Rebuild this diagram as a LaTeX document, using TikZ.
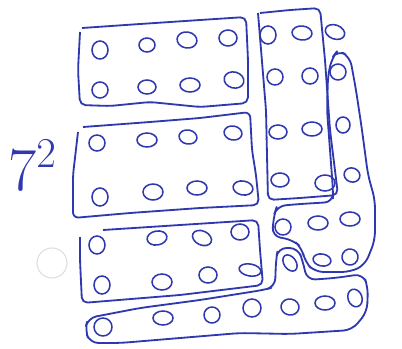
\documentclass[tikz,border=0pt]{standalone}
\usepackage{xcolor}
\usepackage{tikz}
\usetikzlibrary{positioning}
\definecolor{ink}{RGB}{48,56,176}
\colorlet{holemark}{gray!25}

\begin{document}
\begin{tikzpicture}[x=0.025cm, y=-0.025cm,
    outline/.style={draw=ink, line width=1.3pt, rounded corners=4pt, line join=round},
    bead/.style={draw=ink, line width=1.1pt}]
  \useasboundingbox (0,0) rectangle (402,349);
  % punch mark
  \draw[holemark, line width=0.8pt] (52,263) circle (15);
  % label
  \node[ink, anchor=base west, inner sep=0pt, font=\Huge] (sq) at (8,190) {\scalebox{1.75}{$7^{\scriptscriptstyle 2}$}};
  % groups
  \draw[outline] (82,28) -- (140,24) -- (200,20) -- (246,17) -- (248,60) -- (248,103) -- (200,107)
    -- (150,102) -- (110,106) -- (80,105) -- (78,70) -- (80,32);
  \draw[outline] (83,127) -- (150,122) -- (200,118) -- (250,112) -- (252,150) -- (256,175) -- (259,205)
    -- (200,208) -- (130,213) -- (73,218) -- (73,175) -- (78,132);
  \draw[outline] (103,230) -- (180,225) -- (258,220) -- (260,250) -- (263,285) -- (180,295)
    -- (82,303) -- (80,260) -- (80,237);
  \draw[outline] (260,13) -- (290,10) -- (320,8) -- (325,60) -- (330,130) -- (338,195) -- (300,198)
    -- (268,200) -- (266,110) -- (258,13);
  \draw[outline, rounded corners=6pt] (338,50) -- (350,57) -- (356,90) -- (362,130) -- (368,175) -- (375,200)
    -- (375,240) -- (365,265) -- (350,272) -- (315,272) -- (305,262) -- (302,248) -- (293,240)
    -- (272,236) -- (274,215) -- (277,206) -- (300,204) -- (333,202) -- (333,190) -- (330,150)
    -- (327,110) -- (328,75) -- (332,58) -- cycle;
  \draw[outline, rounded corners=6pt] (88,318) -- (140,308) -- (200,300) -- (263,290) -- (275,287)
    -- (276,260) -- (278,248) -- (298,248) -- (303,262) -- (307,280) -- (335,278) -- (363,274)
    -- (368,287) -- (367,312) -- (352,330) -- (290,334) -- (240,333) -- (180,338) -- (120,343)
    -- (90,343) -- (85,330) -- cycle;
  % dots
  \foreach \px/\py/\rx/\ry/\ang in {
      100/50/8/9/0, 147/45/8/7/0, 187/40/10/8/-10, 228/38/9/8/0,
      100/90/8/8/0, 147/87/9/7/0, 190/85/10/7/0, 234/80/10/8/-15,
      97/143/8/8/0, 147/140/10/7/0, 188/137/9/7/-10, 233/133/9/7/-10,
      100/197/8/9/0, 153/192/10/8/0, 197/188/10/7/0, 243/188/10/7/-10,
      97/245/8/9/0, 157/238/10/7/10, 202/238/10/7/-25, 240/232/9/8/0,
      102/285/8/9/0, 162/282/10/8/0, 208/275/9/8/0, 250/270/11/6/-10,
      268/35/8/9/0, 302/33/10/7/-5, 335/32/10/7/-20, 275/77/8/8/0, 310/76/8/8/0,
      278/132/9/7/0, 312/129/10/7/0, 280/180/9/7/0, 325/183/10/8/0,
      338/72/8/8/0, 343/125/7/8/0, 352/175/8/7/-20, 283/227/8/8/0, 318/223/10/7/0,
      350/219/10/7/0, 322/260/9/6/-10, 350/257/8/8/-30,
      290/263/6/9/35, 103/327/9/9/0, 163/318/10/7/0, 212/315/8/8/0,
      252/308/9/9/0, 290/307/9/8/-10, 325/303/10/7/0, 355/298/7/9/20}
    \draw[bead, rotate around={\ang:(\px,\py)}] (\px,\py) ellipse [x radius=\rx, y radius=\ry];
\end{tikzpicture}
\end{document}
